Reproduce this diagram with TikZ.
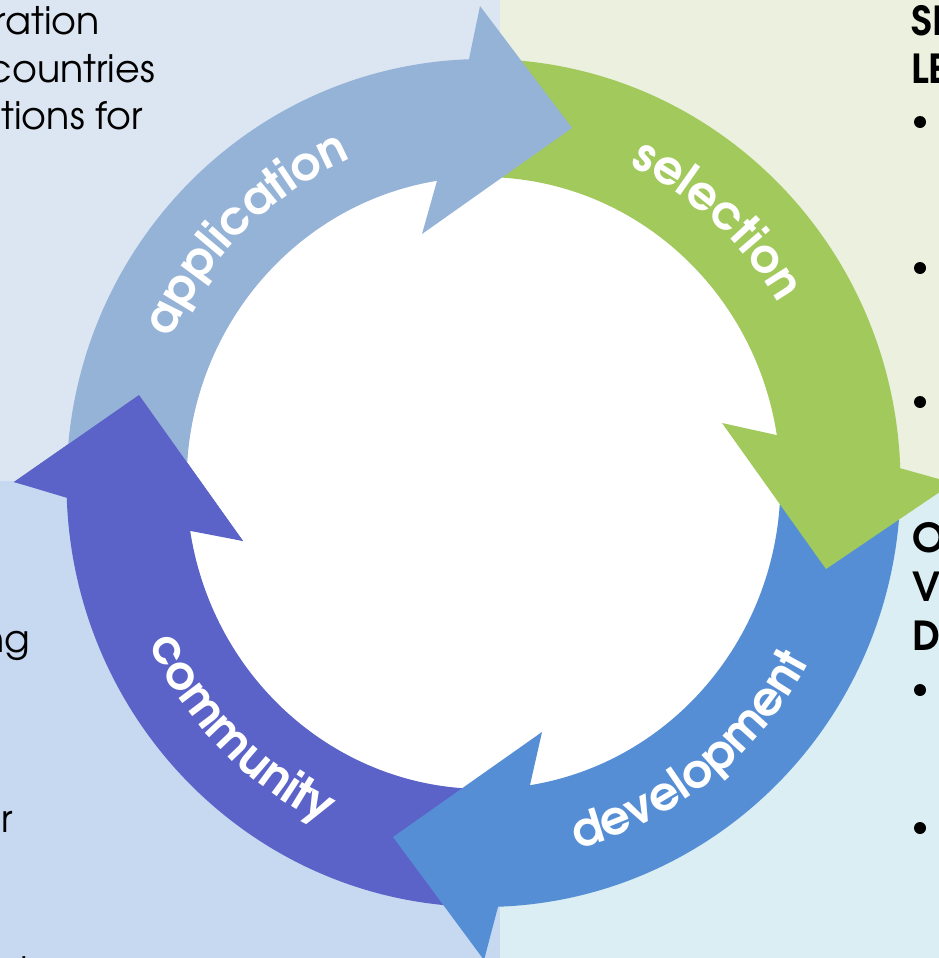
\documentclass[tikz,border=0pt]{standalone}
\usepackage{fontspec}
\setmainfont{TeX Gyre Adventor}
\usetikzlibrary{calc,decorations.text}
\definecolor{bgTL}{HTML}{DCE6F2}
\definecolor{bgTR}{HTML}{EBF1DE}
\definecolor{bgBL}{HTML}{C6D9F1}
\definecolor{bgBR}{HTML}{DAEEF3}
\definecolor{appC}{HTML}{95B3D7}
\definecolor{selC}{HTML}{A2C95B}
\definecolor{devC}{HTML}{558ED5}
\definecolor{comC}{HTML}{5B62C8}
\newcommand\lblfont{\fontsize{47}{47}\selectfont\bfseries}
\begin{document}
\begin{tikzpicture}[x=1pt,y=-1pt,
  bodytext/.style={font=\fontsize{38}{48}\selectfont, text=black, inner sep=0pt},
  headtext/.style={font=\fontsize{40}{48}\selectfont\bfseries, text=black, inner sep=0pt},
  bulletdot/.style={circle, fill=black, minimum size=12pt, inner sep=0pt},
  ringlabel/.style={decorate, decoration={text along path, text align=center, text color=white, text={|\lblfont|#1}}}]
\useasboundingbox (0,0) rectangle (939,958);
\clip (0,0) rectangle (939,958);
% background quadrants
\fill[bgTL] (0,0) rectangle (500,481);
\fill[bgTR] (500,0) rectangle (939,481);
\fill[bgBL] (0,481) rectangle (500,958);
\fill[bgBR] (500,481) rectangle (939,958);
\coordinate (C) at (483.5,483);
\fill[white] (C) ellipse [x radius=297, y radius=306];
% community
\fill[comC] ($(C)+(92:417 and 424)$) arc[start angle=92, end angle=178, x radius=417, y radius=424]
  -- (14,482) -- (139,395) -- (243,541) -- ($(C)+(171:297 and 306)$)
  arc[start angle=171, end angle=92, x radius=297, y radius=306] -- cycle;
% development
\fill[devC] ($(C)+(2:417 and 424)$) arc[start angle=2, end angle=88, x radius=417, y radius=424]
  -- (484,960) -- (393,837) -- (542,732) -- ($(C)+(81:297 and 306)$)
  arc[start angle=81, end angle=2, x radius=297, y radius=306] -- cycle;
% selection
\fill[selC] ($(C)+(273:417 and 424)$) arc[start angle=273, end angle=358, x radius=417, y radius=424]
  -- (953,483) -- (826,569) -- (722,423) -- ($(C)+(351:297 and 306)$)
  arc[start angle=351, end angle=273, x radius=297, y radius=306] -- cycle;
% application
\fill[appC] ($(C)+(182:417 and 424)$) arc[start angle=182, end angle=268, x radius=417, y radius=424]
  -- (480,6) -- (572,128) -- (422,234) -- ($(C)+(261:297 and 306)$)
  arc[start angle=261, end angle=182, x radius=297, y radius=306] -- cycle;
% community head on top of application tail
\fill[comC] (14,482) -- (139,395) -- (243,541) -- cycle;
% ring labels
\path[ringlabel=application] ($(C)+(186:343 and 351)$) arc[start angle=186, end angle=266, x radius=343, y radius=351];
\path[ringlabel=selection] ($(C)+(272:343 and 351)$) arc[start angle=272, end angle=352, x radius=343, y radius=351];
\path[ringlabel=development] ($(C)+(92:370 and 378)$) arc[start angle=92, end angle=12, x radius=370, y radius=378];
\path[ringlabel=community] ($(C)+(175:370 and 378)$) arc[start angle=175, end angle=95, x radius=370, y radius=378];
% side texts
\node[bodytext, anchor=base east] (tl1) at (100,35) {ration};
\node[bodytext, anchor=base east] (tl2) at (155,82) {countries};
\node[bodytext, anchor=base east] (tl3) at (143,129) {ations for};
\node[bodytext, anchor=base east] (bl1) at (30,652) {ng};
\node[bodytext, anchor=base east] (bl2) at (13,832) {or};
\node[bodytext, anchor=base west] (bl3) at (20,984) {ing};
\node[headtext, anchor=base west] (tr1) at (911,36) {SE};
\node[headtext, anchor=base west] (tr2) at (911,83) {LE};
\node[bulletdot] (b1) at (920,122) {};
\node[bulletdot] (b2) at (920,268) {};
\node[bulletdot] (b3) at (920,402) {};
\node[headtext, anchor=base west] (br1) at (912,552) {O};
\node[headtext, anchor=base west] (br2) at (912,601) {V};
\node[headtext, anchor=base west] (br3) at (912,650) {D};
\node[bulletdot] (b4) at (920,690) {};
\node[bulletdot] (b5) at (920,828) {};
\end{tikzpicture}
\end{document}
